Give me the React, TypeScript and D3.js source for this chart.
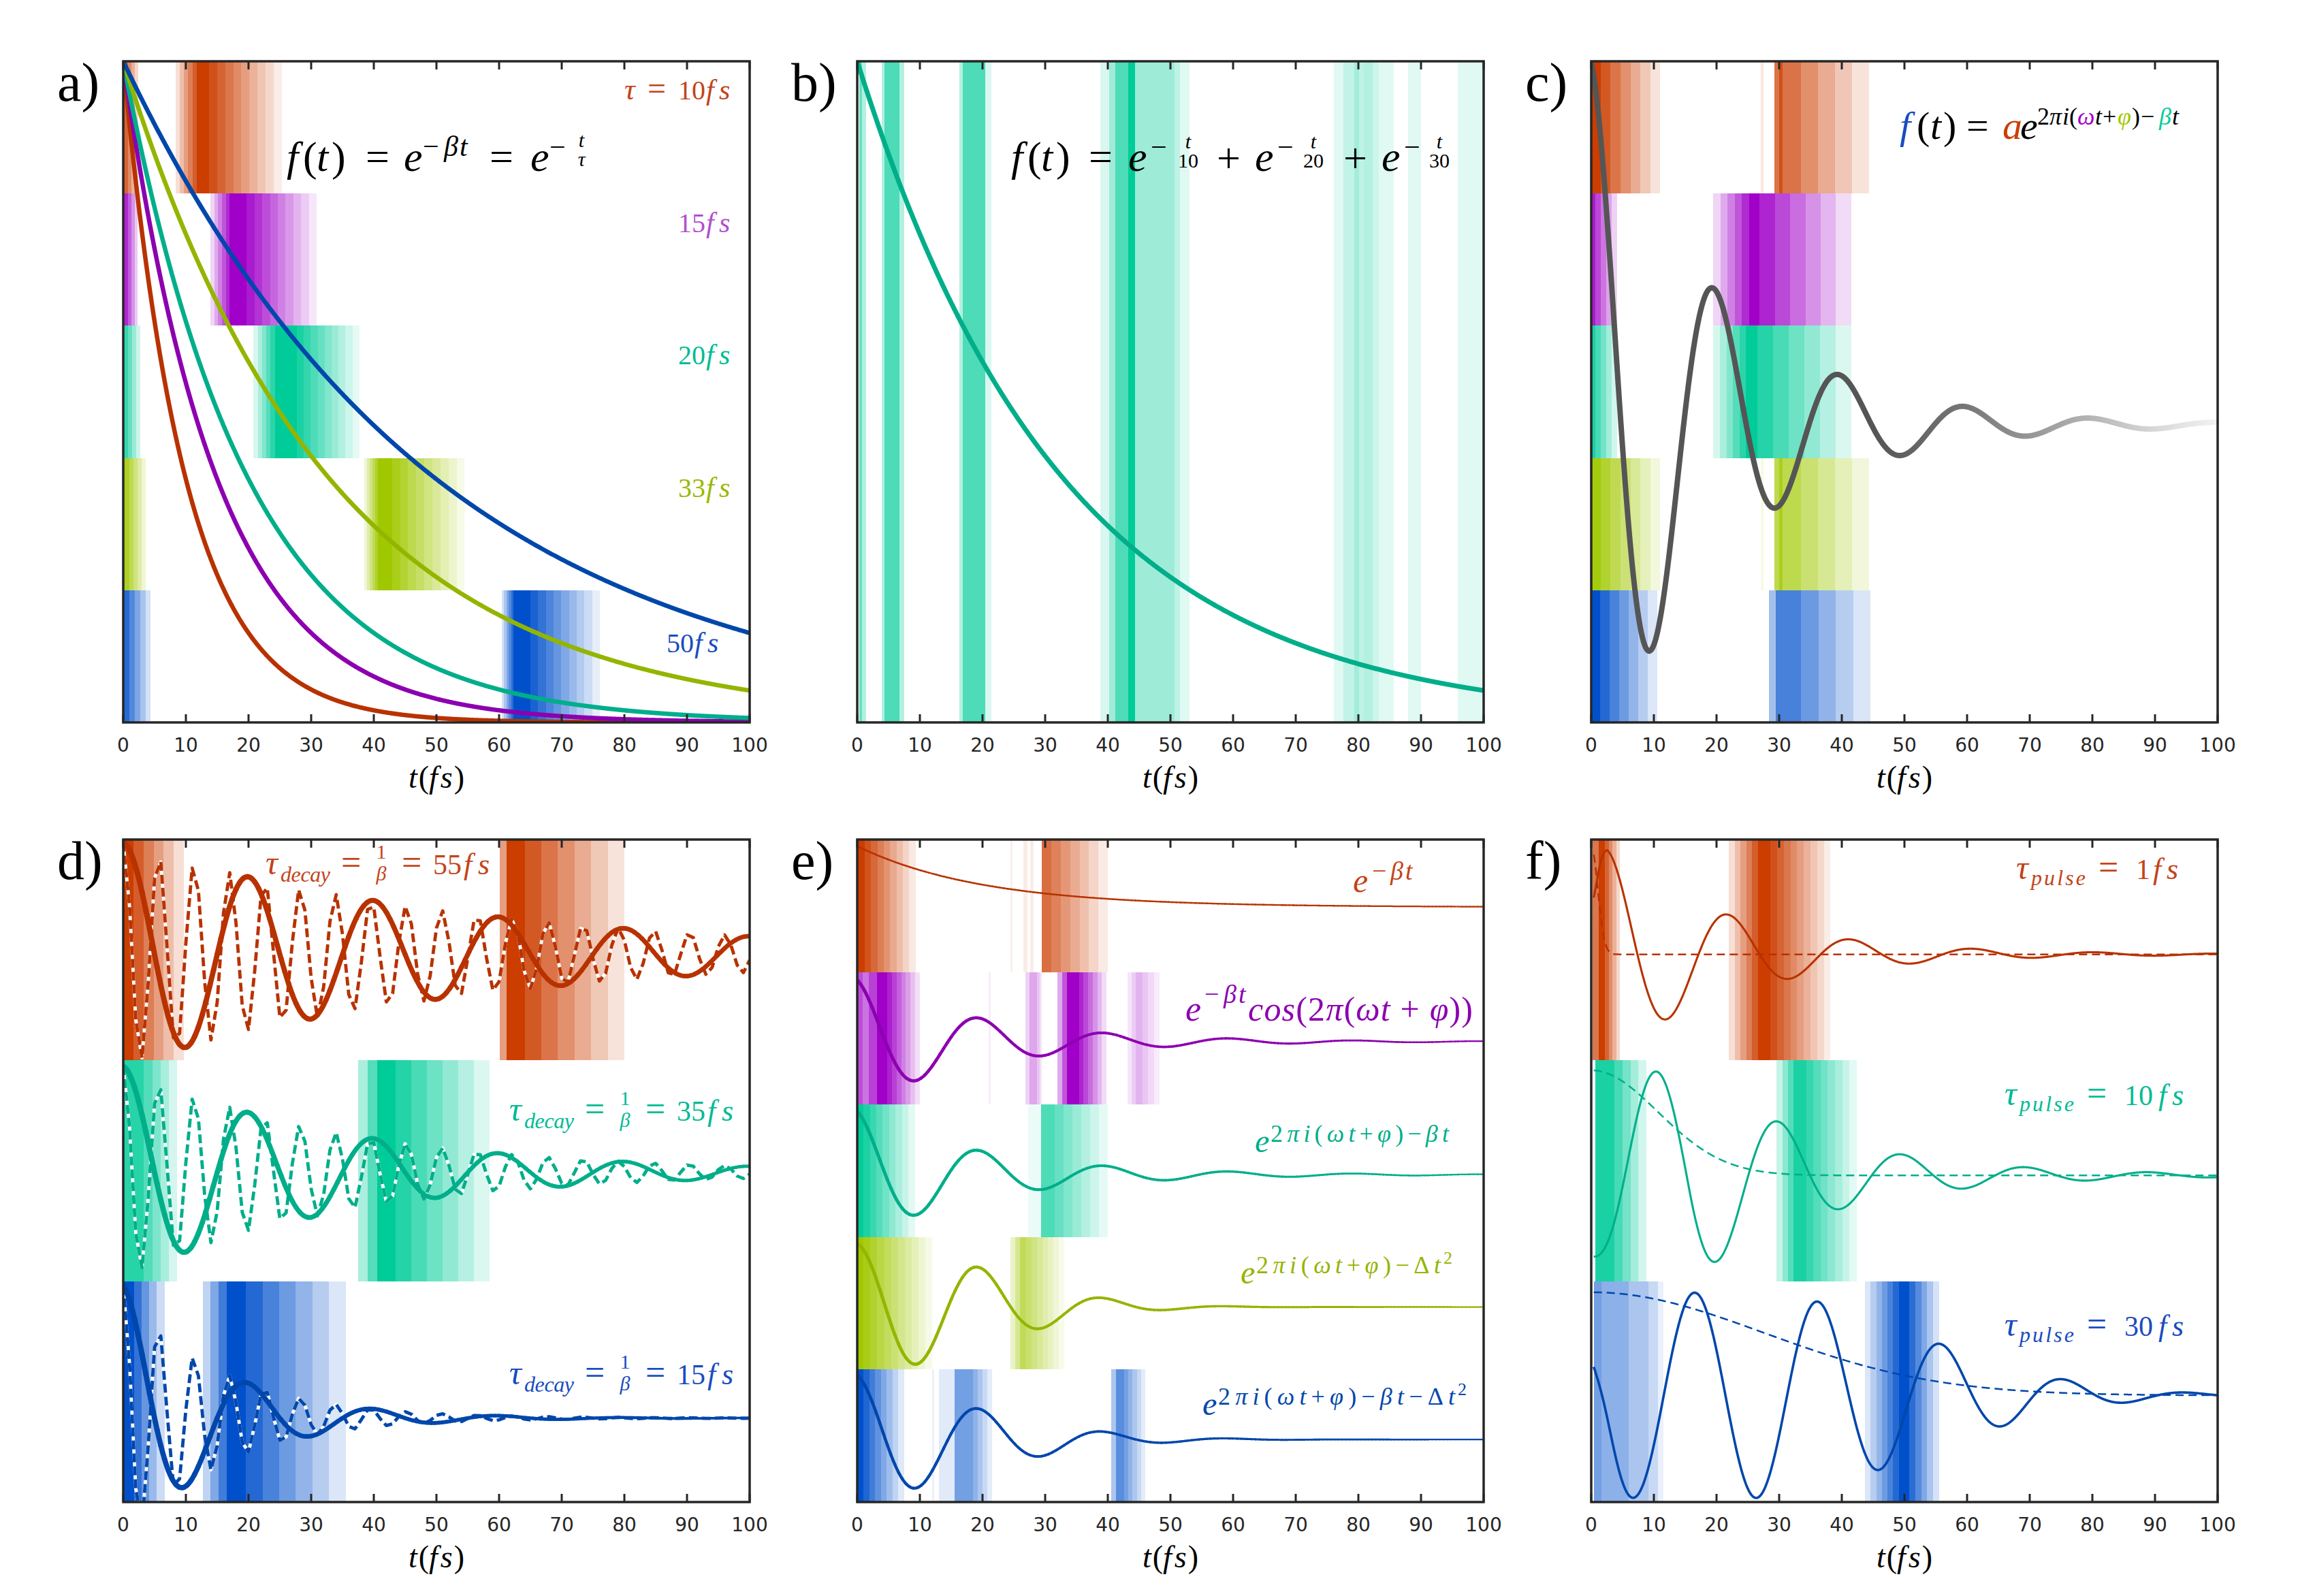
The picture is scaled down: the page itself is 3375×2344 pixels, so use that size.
import React from 'react';
import * as d3 from 'd3';

const W = 3375, H = 2344;
const SERIF = "'Liberation Serif', 'DejaVu Serif', serif";
const SANS = "'DejaVu Sans', 'Liberation Sans', sans-serif";
const INK = '#262626';

// ---------- axis / layout ----------
const TICK_VALUES = [0, 10, 20, 30, 40, 50, 60, 70, 80, 90, 100];
const COL_X = [181, 1259, 2337];
const ROW_Y = [90, 1233];
const PANEL_W = 920;
const ROW_H = [971, 973];

type Hue = 'orange' | 'purple' | 'teal' | 'green' | 'blue';
const FILL: Record<Hue, string> = { orange: '#CC3D00', purple: '#A000C8', teal: '#00CC99', green: '#A0C800', blue: '#0050CC' };
const LINE: Record<Hue, string> = { orange: '#B83200', purple: '#8C00B0', teal: '#00AE8A', green: '#94B500', blue: '#0047AB' };
const TEXT: Record<Hue, string> = { orange: '#C4431A', purple: '#B24ED0', teal: '#00BB95', green: '#9AB800', blue: '#1A4CC0' };

// block: [band, left, peakStart, peakEnd, right, stepsIn, stepsOut, peakAlpha]
type Block = [number, number, number, number, number, number, number, number];

// ---------- panel a ----------
const A_TAU = [10, 15, 20, 33, 50];
const A_HUES: Hue[] = ['orange', 'purple', 'teal', 'green', 'blue'];
const A_LABEL_NUM = ['10', '15', '20', '33', '50'];
const A_BLOCKS: Block[] = [
  [0, 0, 0, 0.8, 2.4, 0, 3, 0.8],
  [0, 8.4, 11.7, 13.7, 25.3, 5, 9, 1],
  [1, 0, 0, 0.8, 2.3, 0, 3, 0.85],
  [1, 13.9, 17.0, 19.7, 30.9, 5, 9, 1],
  [2, 0, 0, 0.8, 2.7, 0, 3, 0.8],
  [2, 20.8, 24.2, 27.7, 37.7, 5, 9, 1],
  [3, 0, 0, 1.0, 3.6, 0, 4, 0.85],
  [3, 38.5, 40.6, 42.9, 54.5, 5, 9, 1],
  [4, 0, 0, 1.0, 4.4, 0, 4, 0.85],
  [4, 60.4, 62.3, 65.0, 76.1, 5, 9, 1],
];

// ---------- panel b ----------
const B_TAU = 33;
const B_STRIPES: [number, number, number][] = [
  [0.35, 0.8, 0.6], [0.8, 1.45, 0.3],
  [3.9, 4.4, 0.3], [4.4, 6.7, 0.7], [6.7, 7.5, 0.3],
  [16.3, 16.9, 0.3], [16.9, 20.4, 0.7], [20.4, 21.4, 0.15],
  [38.8, 40.2, 0.15], [40.2, 41.2, 0.38], [41.2, 43.3, 0.7], [43.3, 44.4, 1], [44.4, 50.6, 0.38], [50.6, 51.5, 0.25], [51.5, 53.0, 0.12],
  [76.1, 77.6, 0.12], [77.6, 79.3, 0.24], [79.3, 80.1, 0.36], [80.1, 80.9, 0.26], [80.9, 82.3, 0.3], [82.3, 83.3, 0.2], [83.3, 85.6, 0.12],
  [87.9, 90.0, 0.12], [95.9, 100, 0.12],
];

// ---------- panel c ----------
const C_WAVE = { eq: 0.45, amp: 0.55, tau: 20, period: 20, shift: 0.25 };
const C_BLOCKS: Block[] = [
  [0, 0, 0, 1.5, 11, 0, 6, 1],
  [0, 27.1, 27.1, 27.5, 27.5, 0, 0, 0.12],
  [0, 29.2, 29.2, 33.5, 44.3, 0, 4, 0.72],
  [0, 30.0, 30.0, 30.5, 30.5, 0, 0, 0.9],
  [1, 0, 0, 0.6, 4.1, 0, 4, 0.9],
  [1, 19.5, 25.2, 26.9, 41.5, 5, 6, 1],
  [2, 0, 0, 0.6, 4.1, 0, 4, 0.9],
  [2, 19.5, 24.7, 26.5, 41.5, 5, 6, 1],
  [3, 0, 0, 1.5, 11, 0, 6, 0.95],
  [3, 27.1, 27.1, 27.5, 27.5, 0, 0, 0.1],
  [3, 29.2, 29.2, 33.5, 44.3, 0, 4, 0.7],
  [3, 30.0, 30.0, 30.5, 30.5, 0, 0, 0.9],
  [4, 0, 0, 1.4, 10.5, 0, 6, 1],
  [4, 28.4, 29.5, 33.5, 44.6, 1, 4, 0.72],
];

// ---------- panel d ----------
const D_HUES: Hue[] = ['orange', 'teal', 'blue'];
const D_TAU = [55, 35, 15];
const D_EQ = [0.48, 0.493, 0.38];
const D_AMP = [0.505, 0.48, 0.6];
const D_PERIOD_SOLID = 20;
const D_PERIOD_DASHED = 5.65;
const D_LABEL_VALUE = ['55', '35', '15'];
const D_BLOCKS: Block[] = [
  [0, 0, 0, 1.6, 9.7, 0, 5, 1],
  [0, 60.1, 61.2, 64.1, 80.0, 1, 6, 1],
  [1, 0, 0, 3.3, 8.6, 0, 4, 0.85],
  [1, 37.5, 40.5, 43.5, 58.5, 2, 6, 1],
  [2, 0, 0, 1.7, 6.6, 0, 4, 1],
  [2, 12.7, 16.5, 19.6, 35.5, 3, 6, 1],
];

// ---------- panel e ----------
const E_HUES: Hue[] = ['orange', 'purple', 'teal', 'green', 'blue'];
const E_EQ = [0.49, 0.475, 0.47, 0.472, 0.472];
const E_AMP = [0.46, 0.47, 0.485, 0.483, 0.49];
const E_TAU = [20, 20, 20, 0, 42];
const E_DELTA = [0, 0, 0, 0.00127, 0.00076];
const E_OSC = [false, true, true, true, true];
const E_PERIOD = 20;
const E_SHIFT = 0.5;
const E_BLOCKS: Block[] = [
  [0, 0, 0, 1.2, 9.3, 0, 8, 1],
  [0, 24.5, 24.5, 24.8, 24.8, 0, 0, 0.08],
  [0, 26.5, 26.5, 27.2, 27.2, 0, 0, 0.1],
  [0, 27.6, 27.6, 28.1, 28.1, 0, 0, 0.1],
  [0, 29.45, 29.45, 31.0, 40.0, 0, 6, 0.75],
  [1, 0, 0, 0.9, 0.9, 0, 0, 0.7],
  [1, 0.9, 0.9, 1.8, 1.8, 0, 0, 0.55],
  [1, 1.8, 1.8, 3.2, 3.2, 0, 0, 0.75],
  [1, 3.2, 3.2, 4.8, 10.0, 0, 7, 1],
  [1, 21.0, 21.0, 21.3, 21.3, 0, 0, 0.07],
  [1, 26.8, 27.5, 28.7, 29.5, 1, 2, 0.35],
  [1, 32.0, 33.5, 35.4, 39.8, 2, 6, 1],
  [1, 43.2, 44.5, 45.5, 48.3, 2, 3, 0.3],
  [2, 0, 0, 1.0, 9.2, 0, 8, 1],
  [2, 27.3, 27.3, 29.4, 29.4, 0, 0, 0.08],
  [2, 29.4, 29.4, 31.5, 40.0, 0, 6, 0.7],
  [3, 0, 0, 1.0, 12.0, 0, 10, 1],
  [3, 24.5, 26.0, 27.0, 33.0, 2, 7, 0.65],
  [4, 0, 0, 1.0, 7.5, 0, 7, 1],
  [4, 12.0, 12.0, 12.3, 12.3, 0, 0, 0.08],
  [4, 13.0, 13.0, 15.5, 15.5, 0, 0, 0.12],
  [4, 15.5, 15.5, 18.5, 21.5, 0, 4, 0.55],
  [4, 40.5, 41.3, 42.6, 46.0, 1, 5, 0.65],
];

// ---------- panel f ----------
const F_HUES: Hue[] = ['orange', 'teal', 'blue'];
const F_EQ = [0.48, 0.479, 0.483];
const F_AMP = [0.474, 0.472, 0.465];
const F_PERIOD = [19.5, 19.7, 19.7];
const F_PEAK = [2.5, 10.3, 16.5];
const F_RISE = [0.34, 0.224, 0.33];
const F_RISE_T = [1.2, 5, 3];
const F_DECAY_START = [2.5, 16, 25];
const F_DECAY_W = [20, 21, 37];
const F_DECAY_POW = [1, 1, 2];
const F_PULSE_SIGMA = [1.5, 15, 39];
const F_PULSE_AMP = [0.485, 0.476, 0.467];
const F_LABEL = ['1', '10', '30'];
const F_T0 = 0.4;
const F_BLOCKS: Block[] = [
  [0, 0.2, 0.2, 1.2, 1.2, 0, 0, 0.7],
  [0, 1.2, 1.2, 2.2, 4.6, 0, 4, 1],
  [0, 22.0, 26.6, 28.6, 38.2, 5, 9, 1],
  [1, 0.6, 0.6, 3.7, 8.8, 0, 4, 0.9],
  [1, 29.6, 32.3, 34.3, 42.4, 3, 7, 0.9],
  [2, 0.4, 0.4, 1.6, 1.6, 0, 0, 0.55],
  [2, 1.6, 1.6, 6.0, 6.0, 0, 0, 0.45],
  [2, 6.0, 6.0, 9.1, 9.1, 0, 0, 0.33],
  [2, 9.1, 9.1, 10.7, 10.7, 0, 0, 0.22],
  [2, 10.7, 10.7, 11.5, 11.5, 0, 0, 0.08],
  [2, 43.7, 49.1, 50.8, 55.5, 6, 5, 1],
];

// ---------- helpers ----------
const T_FINE = d3.range(0, 100.0001, 0.1);
const T_INT = d3.range(0, 101, 1);

const mix = (hue: Hue, a: number) => d3.interpolateRgb('#ffffff', FILL[hue])(a);

function geom(col: number, row: number) {
  const x = COL_X[col], y = ROW_Y[row], w = PANEL_W, h = ROW_H[row];
  const xs = d3.scaleLinear().domain([0, 100]).range([x, x + w]);
  return { x, y, w, h, xs, id: `clip-${row}-${col}` };
}
type G = ReturnType<typeof geom>;

function bandY(g: G, n: number, i: number, f: number) {
  return g.y + (g.h * (i + 1)) / n - (f * g.h) / n;
}

function blockStripes(b: Block) {
  const [band, L, p0, p1, R, nIn, nOut, peak] = b;
  const out: { band: number; t0: number; t1: number; a: number }[] = [];
  for (let i = 0; i < nIn; i++) out.push({ band, t0: L + ((p0 - L) * i) / nIn, t1: L + ((p0 - L) * (i + 1)) / nIn, a: (peak * (i + 1)) / (nIn + 1) });
  if (p1 > p0) out.push({ band, t0: p0, t1: p1, a: peak });
  for (let i = 0; i < nOut; i++) out.push({ band, t0: p1 + ((R - p1) * i) / nOut, t1: p1 + ((R - p1) * (i + 1)) / nOut, a: (peak * (nOut - i)) / (nOut + 1) });
  return out;
}

function Stripes({ g, n, hues, blocks }: { g: G; n: number; hues: Hue[]; blocks: Block[] }) {
  const rects = blocks.flatMap(blockStripes);
  return (
    <g shapeRendering="crispEdges">
      {rects.map((r, k) => (
        <rect key={k} x={g.xs(r.t0)} y={g.y + (g.h * r.band) / n} width={Math.max(0.8, g.xs(r.t1) - g.xs(r.t0))} height={g.h / n} fill={mix(hues[r.band], r.a)} />
      ))}
    </g>
  );
}

const lineGen = d3.line<[number, number]>().x((d) => d[0]).y((d) => d[1]);

function Tapered({ pts, w0, w1, color }: { pts: [number, number][]; w0: number; w1: number; color: string }) {
  const n = pts.length;
  const chunk = 6;
  const els: JSX.Element[] = [];
  for (let s = 0; s < n - 1; s += chunk) {
    const seg = pts.slice(s, Math.min(n, s + chunk + 1));
    const f = s / (n - 1);
    els.push(<path key={s} d={lineGen(seg) || ''} fill="none" stroke={color} strokeWidth={w0 + (w1 - w0) * f} strokeLinecap="round" strokeLinejoin="round" />);
  }
  return <g>{els}</g>;
}

function Tx({ x, y, s, it, c, a, tl, children }: any) {
  return (
    <text x={x} y={y} fontSize={s} fontStyle={it ? 'italic' : 'normal'} fill={c || '#000'} textAnchor={a || 'start'} fontFamily={SERIF} textLength={tl} lengthAdjust={tl ? 'spacing' : undefined}>
      {children}
    </text>
  );
}

function MathStr({ x, y, s, c, str, tl }: any) {
  const parts = Array.from(str as string).map((ch, i) => {
    const it = /[a-zA-Z\u03b1-\u03c9]/.test(ch);
    return (
      <tspan key={i} fontStyle={it ? 'italic' : 'normal'}>
        {ch}
      </tspan>
    );
  });
  return (
    <text x={x} y={y} fontSize={s} fill={c || '#000'} fontFamily={SERIF} textLength={tl} lengthAdjust={tl ? 'spacing' : undefined}>
      {parts}
    </text>
  );
}

function Frame({ g, letter }: { g: G; letter: string }) {
  return (
    <g>
      <rect x={g.x} y={g.y} width={g.w} height={g.h} fill="none" stroke={INK} strokeWidth={3.5} />
      {TICK_VALUES.map((t) => (
        <g key={t}>
          <line x1={g.xs(t)} x2={g.xs(t)} y1={g.y} y2={g.y + 12} stroke={INK} strokeWidth={3} />
          <line x1={g.xs(t)} x2={g.xs(t)} y1={g.y + g.h} y2={g.y + g.h - 12} stroke={INK} strokeWidth={3} />
          <text x={g.xs(t)} y={g.y + g.h + 43} textAnchor="middle" fontFamily={SANS} fontSize={28} fill={INK}>
            {t}
          </text>
        </g>
      ))}
      <text x={g.x + g.w / 2} y={g.y + g.h + 96} textAnchor="middle" fontFamily={SERIF} fontSize={46} fill="#000">
        <tspan fontStyle="italic">t</tspan>
        <tspan dx={2}>(</tspan>
        <tspan fontStyle="italic">f</tspan>
        <tspan dx={4} fontStyle="italic">s</tspan>
        <tspan dx={2}>)</tspan>
      </text>
      <text x={g.x - 97} y={g.y + 58} fontFamily={SERIF} fontSize={80} fill="#000">
        {letter})
      </text>
    </g>
  );
}

function ClipDef({ g }: { g: G }) {
  return (
    <clipPath id={g.id}>
      <rect x={g.x} y={g.y} width={g.w} height={g.h} />
    </clipPath>
  );
}

// ---------- panels ----------
function PanelA() {
  const g = geom(0, 0);
  const ys = d3.scaleLinear().domain([0, 1]).range([g.y + g.h, g.y]);
  const bl = [146, 341, 535, 730, 958];
  return (
    <g>
      <ClipDef g={g} />
      <g clipPath={`url(#${g.id})`}>
        <Stripes g={g} n={5} hues={A_HUES} blocks={A_BLOCKS} />
        {A_TAU.map((tau, i) => (
          <path key={i} d={lineGen(T_FINE.map((t) => [g.xs(t), ys(Math.exp(-t / tau))] as [number, number])) || ''} fill="none" stroke={LINE[A_HUES[i]]} strokeWidth={6.5} />
        ))}
      </g>
      <g>
        <Tx x={421} y={251} s={62} it>f</Tx>
        <Tx x={445} y={251} s={62}>(</Tx>
        <Tx x={465} y={251} s={62} it>t</Tx>
        <Tx x={487} y={251} s={62}>)</Tx>
        <Tx x={537} y={251} s={62}>=</Tx>
        <Tx x={593} y={251} s={62} it>e</Tx>
        <Tx x={621} y={229} s={42}>−</Tx>
        <Tx x={652} y={229} s={42} it>β</Tx>
        <Tx x={675} y={229} s={42} it>t</Tx>
        <Tx x={719} y={251} s={62}>=</Tx>
        <Tx x={779} y={251} s={62} it>e</Tx>
        <Tx x={807} y={230} s={42}>−</Tx>
        <Tx x={854} y={216} s={30} it a="middle">t</Tx>
        <Tx x={854} y={244} s={30} it a="middle">τ</Tx>
      </g>
      {A_HUES.map((hue, i) => {
        const x0 = i === 4 ? 979 : 996;
        return (
          <g key={hue}>
            {i === 0 && (
              <>
                <Tx x={917} y={bl[i]} s={44} it c={TEXT[hue]}>τ</Tx>
                <Tx x={951} y={bl[i]} s={48} c={TEXT[hue]}>=</Tx>
              </>
            )}
            <Tx x={x0} y={bl[i]} s={40} c={TEXT[hue]}>{A_LABEL_NUM[i]}</Tx>
            <Tx x={x0 + 41} y={bl[i]} s={42} it c={TEXT[hue]}>f</Tx>
            <Tx x={x0 + 60} y={bl[i]} s={42} it c={TEXT[hue]}>s</Tx>
          </g>
        );
      })}
      <Frame g={g} letter="a" />
    </g>
  );
}

function PanelB() {
  const g = geom(1, 0);
  const ys = d3.scaleLinear().domain([0, 1]).range([g.y + g.h, g.y]);
  const x0 = 1485, y0 = 251;
  const fracs: [number, string][] = [[260, '10'], [444, '20'], [629, '30']];
  const exps = [172, 358, 544];
  return (
    <g>
      <ClipDef g={g} />
      <g clipPath={`url(#${g.id})`}>
        <g shapeRendering="crispEdges">
          {B_STRIPES.map(([t0, t1, a], k) => (
            <rect key={k} x={g.xs(t0)} y={g.y} width={g.xs(t1) - g.xs(t0)} height={g.h} fill={mix('teal', a)} />
          ))}
        </g>
        <path d={lineGen(T_FINE.map((t) => [g.xs(t), ys(Math.exp(-t / B_TAU))] as [number, number])) || ''} fill="none" stroke={LINE.teal} strokeWidth={7} />
      </g>
      <g>
        <Tx x={x0} y={y0} s={62} it>f</Tx>
        <Tx x={x0 + 24} y={y0} s={62}>(</Tx>
        <Tx x={x0 + 44} y={y0} s={62} it>t</Tx>
        <Tx x={x0 + 66} y={y0} s={62}>)</Tx>
        <Tx x={x0 + 114} y={y0} s={62}>=</Tx>
        {exps.map((ex, i) => (
          <g key={i}>
            <Tx x={x0 + ex} y={y0} s={62} it>e</Tx>
            <Tx x={x0 + ex + 33} y={y0 - 21} s={42}>−</Tx>
            <Tx x={x0 + fracs[i][0]} y={y0 - 33} s={30} it a="middle">t</Tx>
            <Tx x={x0 + fracs[i][0]} y={y0 - 5} s={30} a="middle">{fracs[i][1]}</Tx>
          </g>
        ))}
        <Tx x={x0 + 302} y={y0 + 2} s={62}>+</Tx>
        <Tx x={x0 + 488} y={y0 + 2} s={62}>+</Tx>
      </g>
      <Frame g={g} letter="b" />
    </g>
  );
}

function PanelC() {
  const g = geom(2, 0);
  const ys = d3.scaleLinear().domain([0, 1]).range([g.y + g.h, g.y]);
  const { eq, amp, tau, period, shift } = C_WAVE;
  const pts = T_FINE.map((t) => [g.xs(t), ys(eq + amp * Math.exp(-t / tau) * Math.cos((2 * Math.PI * (t + shift)) / period))] as [number, number]);
  const x0 = 2790, y0 = 204, sy = y0 - 21;
  return (
    <g>
      <defs>
        <linearGradient id="fadeGray" gradientUnits="userSpaceOnUse" x1={g.xs(0)} y1={0} x2={g.xs(100)} y2={0}>
          <stop offset="0" stopColor="#555555" />
          <stop offset="0.45" stopColor="#555555" />
          <stop offset="0.6" stopColor="#777777" />
          <stop offset="0.75" stopColor="#a5a5a5" />
          <stop offset="0.9" stopColor="#d8d8d8" />
          <stop offset="1" stopColor="#f2f2f2" />
        </linearGradient>
      </defs>
      <ClipDef g={g} />
      <g clipPath={`url(#${g.id})`}>
        <Stripes g={g} n={5} hues={A_HUES} blocks={C_BLOCKS} />
        <path d={lineGen(pts) || ''} fill="none" stroke="url(#fadeGray)" strokeWidth={8} strokeLinejoin="round" />
      </g>
      <g>
        <Tx x={x0} y={y0} s={58} it c={TEXT.blue}>f</Tx>
        <Tx x={x0 + 25} y={y0} s={58}>(</Tx>
        <Tx x={x0 + 45} y={y0} s={58} it>t</Tx>
        <Tx x={x0 + 64} y={y0} s={58}>)</Tx>
        <Tx x={x0 + 98} y={y0} s={58}>=</Tx>
        <Tx x={x0 + 151} y={y0} s={58} it c={FILL.orange}>a</Tx>
        <Tx x={x0 + 177} y={y0} s={58} it>e</Tx>
        <Tx x={x0 + 202} y={sy} s={36}>2</Tx>
        <Tx x={x0 + 220} y={sy} s={36} it>π</Tx>
        <Tx x={x0 + 239} y={sy} s={36} it>i</Tx>
        <Tx x={x0 + 249} y={sy} s={36}>(</Tx>
        <Tx x={x0 + 261} y={sy} s={36} it c={FILL.purple}>ω</Tx>
        <Tx x={x0 + 287} y={sy} s={36} it>t</Tx>
        <Tx x={x0 + 298} y={sy} s={36}>+</Tx>
        <Tx x={x0 + 320} y={sy} s={36} it c={FILL.green}>φ</Tx>
        <Tx x={x0 + 341} y={sy} s={36}>)</Tx>
        <Tx x={x0 + 354} y={sy} s={36}>−</Tx>
        <Tx x={x0 + 381} y={sy} s={36} it c={FILL.teal}>β</Tx>
        <Tx x={x0 + 400} y={sy} s={36} it>t</Tx>
      </g>
      <Frame g={g} letter="c" />
    </g>
  );
}

function DecayLabel({ x, y, value, c }: any) {
  return (
    <g>
      <Tx x={x} y={y} s={50} it c={c}>τ</Tx>
      <Tx x={x + 22} y={y + 11} s={32} it c={c} tl={73}>decay</Tx>
      <Tx x={x + 111} y={y} s={52} c={c}>=</Tx>
      <Tx x={x + 170} y={y - 23} s={30} c={c} a="middle">1</Tx>
      <Tx x={x + 170} y={y + 9} s={30} it c={c} a="middle">β</Tx>
      <Tx x={x + 200} y={y} s={52} c={c}>=</Tx>
      <Tx x={x + 246} y={y} s={42} c={c}>{value}</Tx>
      <Tx x={x + 291} y={y} s={44} it c={c}>f</Tx>
      <Tx x={x + 312} y={y} s={44} it c={c}>s</Tx>
    </g>
  );
}

function PanelD() {
  const g = geom(0, 1);
  const n = 3;
  const solid = (i: number, t: number) => D_EQ[i] + D_AMP[i] * Math.exp(-t / D_TAU[i]) * Math.cos((2 * Math.PI * t) / D_PERIOD_SOLID);
  const dashed = (i: number, t: number) => D_EQ[i] + D_AMP[i] * Math.exp(-t / D_TAU[i]) * Math.cos((2 * Math.PI * t) / D_PERIOD_DASHED);
  const widths = [[8, 6.5], [8, 4.8], [8, 3.4]];
  const labelPos = [[390, 1284], [748, 1646], [748, 2033]];
  return (
    <g>
      <ClipDef g={g} />
      <g clipPath={`url(#${g.id})`}>
        <Stripes g={g} n={n} hues={D_HUES} blocks={D_BLOCKS} />
        {D_HUES.map((hue, i) => {
          const dpts = T_INT.map((t) => [g.xs(t), bandY(g, n, i, dashed(i, t))] as [number, number]);
          return (
            <g key={'d' + hue}>
              <path d={lineGen(dpts) || ''} fill="none" stroke="#ffffff" strokeWidth={4.8} strokeLinejoin="round" />
              <path d={lineGen(dpts) || ''} fill="none" stroke={LINE[hue]} strokeWidth={4.8} strokeDasharray="13 6" strokeLinejoin="round" />
            </g>
          );
        })}
        {D_HUES.map((hue, i) => (
          <Tapered key={'s' + hue} pts={T_FINE.map((t) => [g.xs(t), bandY(g, n, i, solid(i, t))] as [number, number])} w0={widths[i][0]} w1={widths[i][1]} color={LINE[hue]} />
        ))}
      </g>
      {D_HUES.map((hue, i) => (
        <DecayLabel key={hue} x={labelPos[i][0]} y={labelPos[i][1]} value={D_LABEL_VALUE[i]} c={TEXT[hue]} />
      ))}
      <Frame g={g} letter="d" />
    </g>
  );
}

function PanelE() {
  const g = geom(1, 1);
  const n = 5;
  const val = (i: number, t: number) => {
    const env = Math.exp(-(E_TAU[i] ? t / E_TAU[i] : 0) - E_DELTA[i] * t * t);
    const osc = E_OSC[i] ? Math.cos((2 * Math.PI * (t + E_SHIFT)) / E_PERIOD) : 1;
    return E_EQ[i] + E_AMP[i] * env * osc;
  };
  const widths = [[2.6, 2.2], [5, 2.2], [5, 2.2], [5, 2.2], [4.6, 2.2]];
  return (
    <g>
      <ClipDef g={g} />
      <g clipPath={`url(#${g.id})`}>
        <Stripes g={g} n={n} hues={E_HUES} blocks={E_BLOCKS} />
        {E_HUES.map((hue, i) => (
          <Tapered key={hue} pts={T_FINE.map((t) => [g.xs(t), bandY(g, n, i, val(i, t))] as [number, number])} w0={widths[i][0]} w1={widths[i][1]} color={LINE[hue]} />
        ))}
      </g>
      <g>
        <Tx x={1987} y={1310} s={50} it c={TEXT.orange}>e</Tx>
        <Tx x={2015} y={1292} s={38} c={TEXT.orange}>−</Tx>
        <Tx x={2042} y={1292} s={38} it c={TEXT.orange}>β</Tx>
        <Tx x={2064} y={1292} s={38} it c={TEXT.orange}>t</Tx>

        <Tx x={1741} y={1499} s={52} it c={LINE.purple}>e</Tx>
        <Tx x={1769} y={1473} s={38} c={LINE.purple}>−</Tx>
        <Tx x={1797} y={1473} s={38} it c={LINE.purple}>β</Tx>
        <Tx x={1819} y={1473} s={38} it c={LINE.purple}>t</Tx>
        <MathStr x={1833} y={1499} s={50} c={LINE.purple} str="cos(2π(ωt + φ))" tl={330} />

        <Tx x={1843} y={1692} s={48} it c={LINE.teal}>e</Tx>
        <MathStr x={1866} y={1677} s={36} c={LINE.teal} str="2πi(ωt+φ)−βt" tl={262} />

        <Tx x={1822} y={1885} s={48} it c={LINE.green}>e</Tx>
        <MathStr x={1845} y={1870} s={36} c={LINE.green} str="2πi(ωt+φ)−Δt" tl={271} />
        <Tx x={2120} y={1856} s={26} c={LINE.green}>2</Tx>

        <Tx x={1766} y={2078} s={48} it c={LINE.blue}>e</Tx>
        <MathStr x={1789} y={2063} s={36} c={LINE.blue} str="2πi(ωt+φ)−βt−Δt" tl={348} />
        <Tx x={2141} y={2049} s={26} c={LINE.blue}>2</Tx>
      </g>
      <Frame g={g} letter="e" />
    </g>
  );
}

function PulseLabel({ x, y, value, c }: any) {
  const dw = value.length === 1 ? 17 : 42;
  return (
    <g>
      <Tx x={x} y={y} s={50} it c={c}>τ</Tx>
      <Tx x={x + 22} y={y + 9} s={32} it c={c} tl={80}>pulse</Tx>
      <Tx x={x + 121} y={y} s={52} c={c}>=</Tx>
      <Tx x={x + 176} y={y} s={42} c={c}>{value}</Tx>
      <Tx x={x + 176 + dw + 8} y={y} s={44} it c={c}>f</Tx>
      <Tx x={x + 176 + dw + 28} y={y} s={44} it c={c}>s</Tx>
    </g>
  );
}

function PanelF() {
  const g = geom(2, 1);
  const n = 3;
  const solid = (i: number, t: number) => {
    const rise = 1 - F_RISE[i] * Math.exp(-((t / F_RISE_T[i]) ** 2));
    const dec = t < F_DECAY_START[i] ? 1 : Math.exp(-Math.pow((t - F_DECAY_START[i]) / F_DECAY_W[i], F_DECAY_POW[i]));
    return F_EQ[i] + F_AMP[i] * rise * dec * Math.cos((2 * Math.PI * (t - F_PEAK[i])) / F_PERIOD[i]);
  };
  const pulse = (i: number, t: number) => F_EQ[i] + F_PULSE_AMP[i] * Math.exp(-((t / F_PULSE_SIGMA[i]) ** 2));
  const ts = T_FINE.filter((t) => t >= F_T0);
  const labelPos = [[2961, 1291], [2944, 1623], [2944, 1962]];
  const sw = [3.1, 3.1, 3.6];
  return (
    <g>
      <ClipDef g={g} />
      <g clipPath={`url(#${g.id})`}>
        <Stripes g={g} n={n} hues={F_HUES} blocks={F_BLOCKS} />
        {F_HUES.map((hue, i) => (
          <g key={hue}>
            <path d={lineGen(ts.map((t) => [g.xs(t), bandY(g, n, i, pulse(i, t))] as [number, number])) || ''} fill="none" stroke={LINE[hue]} strokeWidth={2.5} strokeDasharray="12 7" />
            <path d={lineGen(ts.map((t) => [g.xs(t), bandY(g, n, i, solid(i, t))] as [number, number])) || ''} fill="none" stroke={LINE[hue]} strokeWidth={sw[i]} strokeLinejoin="round" />
          </g>
        ))}
      </g>
      {F_HUES.map((hue, i) => (
        <PulseLabel key={hue} x={labelPos[i][0]} y={labelPos[i][1]} value={F_LABEL[i]} c={TEXT[hue]} />
      ))}
      <Frame g={g} letter="f" />
    </g>
  );
}

export default function App() {
  return (
    <svg width={W} height={H} viewBox={`0 0 ${W} ${H}`} style={{ display: 'block', position: 'absolute', left: 0, top: 0, background: '#ffffff' }}>
      <rect x={0} y={0} width={W} height={H} fill="#ffffff" />
      <PanelA />
      <PanelB />
      <PanelC />
      <PanelD />
      <PanelE />
      <PanelF />
    </svg>
  );
}
